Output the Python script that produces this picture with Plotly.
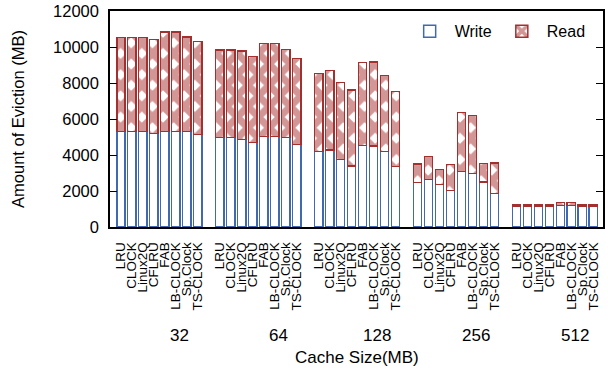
import plotly.graph_objects as go

policies = ["LRU", "CLOCK", "Linux2Q", "CFLRU", "FAB", "LB-CLOCK", "Sp.Clock", "TS-CLOCK"]
cache_sizes = ["32", "64", "128", "256", "512"]

write_32 = [5295, 5295, 5295, 5200, 5295, 5295, 5295, 5130]
read_32 = [5245, 5245, 5235, 5225, 5535, 5535, 5260, 5185]
write_64 = [4963, 4963, 4870, 4685, 5018, 5018, 4981, 4574]
read_64 = [4870, 4870, 4908, 4778, 5186, 5186, 4889, 4778]
write_128 = [4185, 4278, 3759, 3389, 4537, 4500, 4185, 3352]
read_128 = [4352, 4407, 4278, 4222, 4593, 4667, 4241, 4185]
write_256 = [2481, 2648, 2352, 2019, 3093, 2981, 2500, 1852]
read_256 = [1019, 1259, 852, 1462, 3277, 3204, 1019, 1704]
write_512 = [1130, 1130, 1130, 1130, 1185, 1185, 1130, 1130]
read_512 = [92, 92, 92, 92, 167, 167, 92, 92]

writes = [write_32, write_64, write_128, write_256, write_512]
reads = [read_32, read_64, read_128, read_256, read_512]

slots = len(policies) + 1
xs, wv, rv, tt = [], [], [], []
for g, size in enumerate(cache_sizes):
    for i, p in enumerate(policies):
        xs.append(g * slots + i)
        wv.append(writes[g][i])
        rv.append(reads[g][i])
        tt.append(p)

BLUE = "#4169b0"
RED = "#a32f2f"
FONT = "Liberation Sans, Arial, sans-serif"

fig = go.Figure()
fig.add_trace(go.Bar(
    x=xs, y=wv, name="Write", width=0.75,
    marker=dict(color="white", line=dict(color=BLUE, width=1.5)),
))
fig.add_trace(go.Bar(
    x=xs, y=rv, name="Read", width=0.75,
    marker=dict(color="white", line=dict(color=RED, width=1.5),
                pattern=dict(shape="x", fgcolor=RED, bgcolor="white",
                             size=15, solidity=0.72, fillmode="overlay")),
))

annotations = []
for g, size in enumerate(cache_sizes):
    annotations.append(dict(x=g * slots + 5.3, y=-0.5, xref="x", yref="paper",
                            text=size, showarrow=False,
                            font=dict(size=17, color="black", family=FONT),
                            xanchor="center", yanchor="middle"))
annotations.append(dict(x=0.5, y=-0.602, xref="paper", yref="paper",
                        text="Cache Size(MB)", showarrow=False,
                        font=dict(size=17, color="black", family=FONT),
                        xanchor="center", yanchor="middle"))

fig.update_layout(
    width=608, height=369,
    margin=dict(l=110, r=5, t=11, b=142),
    barmode="stack",
    plot_bgcolor="white", paper_bgcolor="white",
    font=dict(family=FONT, size=16, color="black"),
    showlegend=True,
    legend=dict(orientation="h", x=0.975, xanchor="right", y=0.985, yanchor="top",
                bgcolor="rgba(0,0,0,0)", font=dict(size=16),
                itemwidth=40, traceorder="normal"),
    annotations=annotations,
    xaxis=dict(
        range=[-0.99, 43.88], tickmode="array", tickvals=xs, ticktext=tt,
        tickangle=-90, tickfont=dict(size=13.5, family=FONT),
        showline=True, linecolor="black", linewidth=1.5, mirror=True,
        ticks="", showgrid=False, zeroline=False, ticklabelstandoff=8,
        automargin=False,
    ),
    yaxis=dict(
        range=[0, 12000], tickmode="array",
        tickvals=[0, 2000, 4000, 6000, 8000, 10000, 12000],
        ticktext=["0", "2000", "4000", "6000", "8000", "10000", "12000"],
        tickfont=dict(size=16.5, family=FONT),
        showline=True, linecolor="black", linewidth=1.5, mirror="allticks",
        ticks="inside", ticklen=7, tickwidth=1.2, tickcolor="black",
        showgrid=False, zeroline=False, ticklabelstandoff=6,
        automargin=False,
        title=dict(text="Amount of Eviction (MB)", font=dict(size=16.5, family=FONT), standoff=24),
    ),
)

fig.write_html("out.html", config={"displayModeBar": False},
               post_script="document.body.style.margin='0';document.body.style.overflow='hidden';")
